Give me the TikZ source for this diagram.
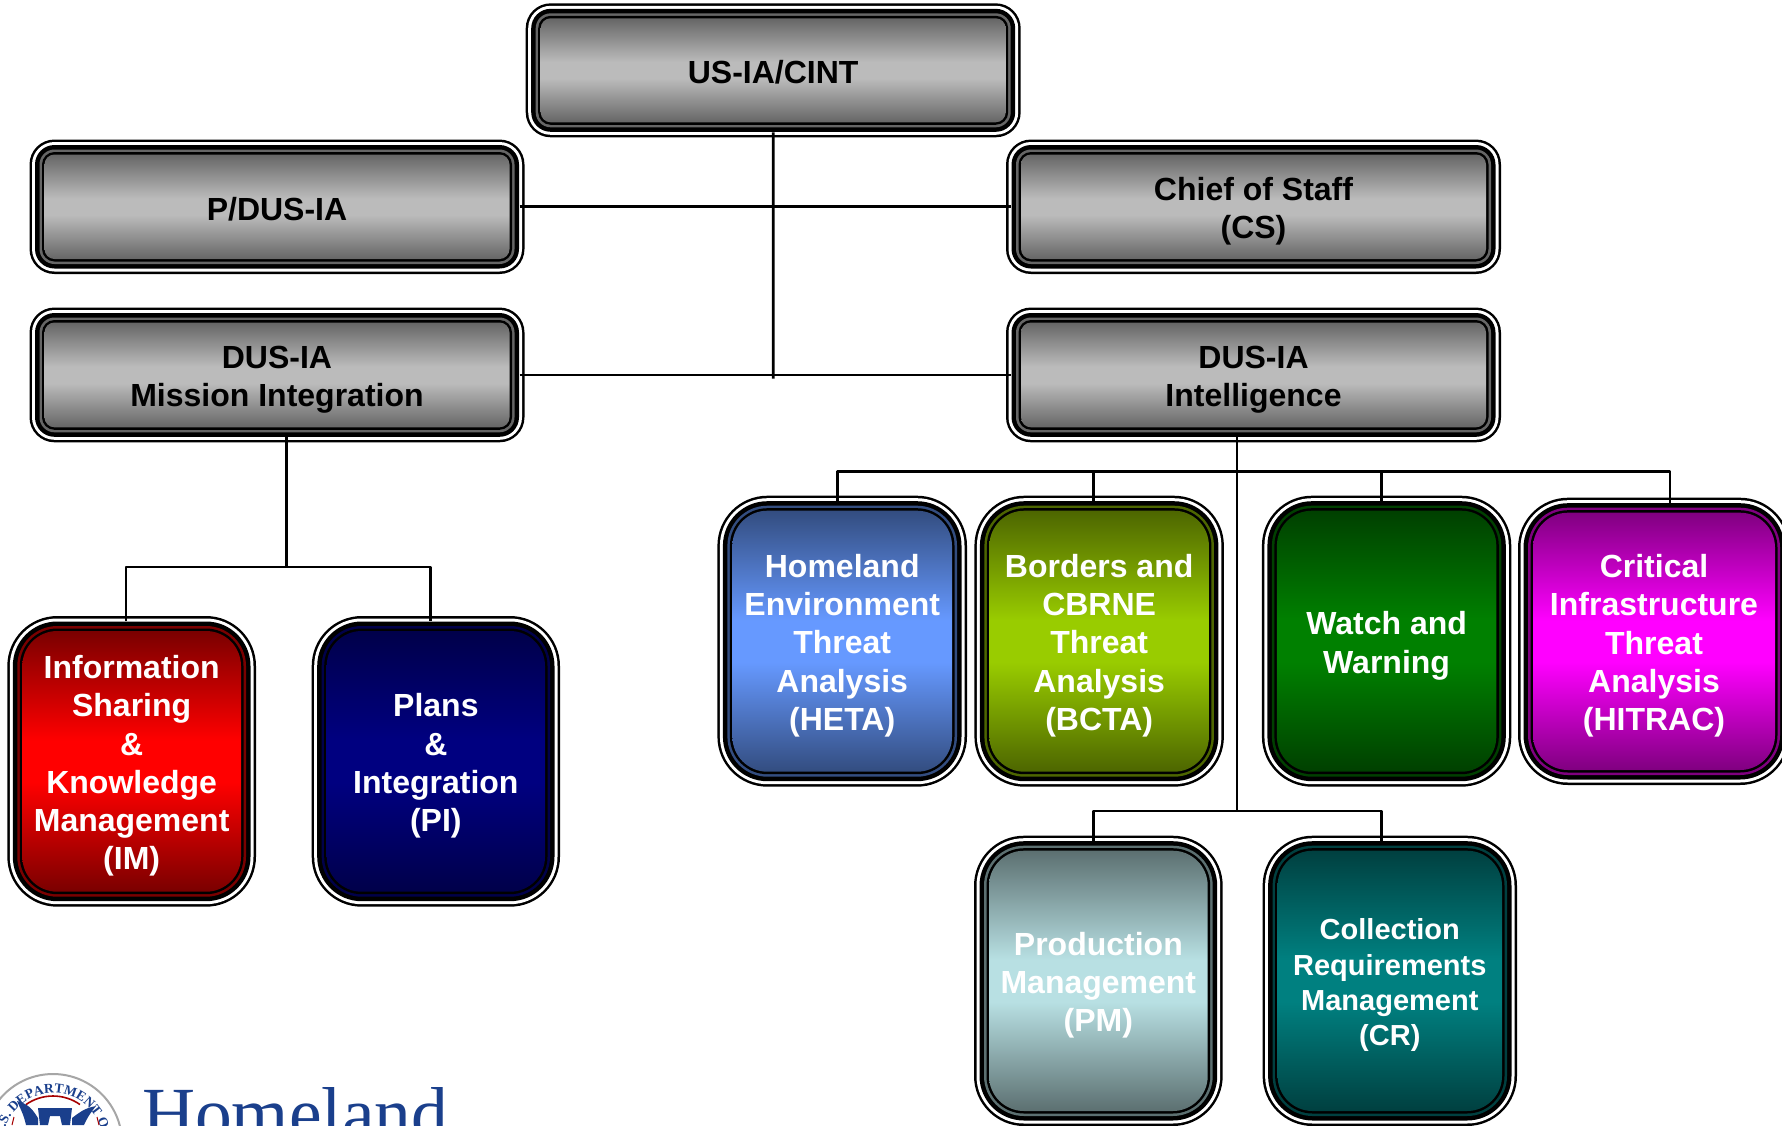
\documentclass[tikz,border=0pt]{standalone}
\usepackage{fontspec}
\setmainfont{Liberation Sans}
\newfontfamily\hlserif{Liberation Serif}
\usetikzlibrary{decorations.text}
\definecolor{grdark}{HTML}{666666}\definecolor{grmid}{HTML}{BBBBBB}
\definecolor{imdark}{HTML}{7A0000}\definecolor{immid}{HTML}{FF0000}
\definecolor{pidark}{HTML}{00004A}\definecolor{pimid}{HTML}{000080}
\definecolor{hedark}{HTML}{334D80}\definecolor{hemid}{HTML}{6699FF}
\definecolor{bcdark}{HTML}{4D6600}\definecolor{bcmid}{HTML}{99CC00}
\definecolor{wwdark}{HTML}{004000}\definecolor{wwmid}{HTML}{008000}
\definecolor{hidark}{HTML}{800080}\definecolor{himid}{HTML}{FF00FF}
\definecolor{pmdark}{HTML}{5C7071}\definecolor{pmmid}{HTML}{B8E0E3}
\definecolor{crdark}{HTML}{004040}\definecolor{crmid}{HTML}{008080}
\definecolor{dhsblue}{HTML}{1A3F8C}
\newcommand{\tonedecl}[1]{\pgfdeclareverticalshading{tone#1}{100bp}{color(0bp)=(#1dark); color(25bp)=(#1dark); color(46bp)=(#1mid); color(54bp)=(#1mid); color(75bp)=(#1dark); color(100bp)=(#1dark)}}
\tonedecl{gr}\tonedecl{im}\tonedecl{pi}\tonedecl{he}\tonedecl{bc}\tonedecl{ww}\tonedecl{hi}\tonedecl{pm}\tonedecl{cr}
\tikzset{
  layer/.style={rectangle,inner sep=0pt,outer sep=0pt,draw=none},
  graytext/.style={text=black},
  whitetext/.style={text=white},
  oneline/.style={yshift=-2pt},
  manylines/.style={yshift=-4.5pt},
  link/.style={draw=black,line width=2.8pt,line join=round},
  intoA/.style={shorten >=-5pt},
  fromA/.style={shorten <=-5pt},
}
\newcommand{\sizemain}{\fontsize{32}{38.2}\selectfont\bfseries}
\newcommand{\sizecr}{\fontsize{29}{35.4}\selectfont\bfseries}
% #1 options, #2 name, #3-#6 box, #7 radius, #8 tone, #9 text
\newcommand{\orgbox}[9][]{%
  \pgfmathsetmacro{\cxx}{(#3+#5)/2}\pgfmathsetmacro{\cyy}{(#4+#6)/2}%
  \pgfmathsetmacro{\www}{#5-#3}\pgfmathsetmacro{\hhh}{#6-#4}%
  \node[layer,fill=black,minimum width=\www pt,minimum height=\hhh pt,rounded corners=#7pt] (#2) at (\cxx,\cyy) {};
  \node[layer,fill=white,minimum width=\www pt-5pt,minimum height=\hhh pt-5pt,rounded corners=#7pt-2.5pt] (#2-a) at (\cxx,\cyy) {};
  \node[layer,fill=black,minimum width=\www pt-11pt,minimum height=\hhh pt-11pt,rounded corners=#7pt-5.5pt] (#2-b) at (\cxx,\cyy) {};
  \node[layer,fill=#8dark,minimum width=\www pt-20pt,minimum height=\hhh pt-20pt,rounded corners=#7pt-10pt] (#2-c) at (\cxx,\cyy) {};
  \node[layer,fill=black,minimum width=\www pt-25pt,minimum height=\hhh pt-25pt,rounded corners=#7pt-12.5pt] (#2-d) at (\cxx,\cyy) {};
  \node[layer,shading=tone#8,minimum width=\www pt-30pt,minimum height=\hhh pt-30pt,rounded corners=#7pt-15pt] (#2-f) at (\cxx,\cyy) {};
  \node[layer,align=center,font=\sizemain,#1] (#2-t) at (\cxx,\cyy) {#9};
}
\begin{document}
\begin{tikzpicture}[x=1pt,y=-1pt]
\useasboundingbox (0,0) rectangle (1782,1125);
\fill[white] (0,0) rectangle (1782,1125);
% gray boxes
\orgbox[graytext,oneline]{cint}{525.7}{3.3}{1020.7}{137.3}{25}{gr}{US-IA/CINT}
\orgbox[graytext,oneline]{pdus}{29.5}{139.5}{524.5}{274}{25}{gr}{P/DUS-IA}
\orgbox[graytext,manylines]{cs}{1006}{139.5}{1501}{274}{25}{gr}{Chief of Staff\\(CS)}
\orgbox[graytext,manylines]{dusmi}{29.5}{307.5}{524.5}{442.3}{25}{gr}{DUS-IA\\Mission Integration}
\orgbox[graytext,manylines]{dusint}{1006}{307.5}{1501}{442.3}{25}{gr}{DUS-IA\\Intelligence}
% coloured boxes
\orgbox[whitetext,manylines]{im}{7.3}{616}{256}{906.7}{50}{im}{Information\\Sharing\\\&\\Knowledge\\Management\\(IM)}
\orgbox[whitetext,manylines]{pi}{311.7}{616}{560}{906.7}{50}{pi}{Plans\\\&\\Integration\\(PI)}
\orgbox[whitetext,manylines]{heta}{717.4}{495.7}{967}{786.7}{50}{he}{Homeland\\Environment\\Threat\\Analysis\\(HETA)}
\orgbox[whitetext,manylines]{bcta}{974.4}{495.7}{1223.9}{786.7}{50}{bc}{Borders and\\CBRNE\\Threat\\Analysis\\(BCTA)}
\orgbox[whitetext,manylines]{ww}{1261.9}{495.7}{1511.3}{786.7}{50}{ww}{Watch and\\Warning}
\orgbox[whitetext,manylines]{hitrac}{1518}{497.7}{1790}{785}{50}{hi}{Critical\\Infrastructure\\Threat\\Analysis\\(HITRAC)}
\orgbox[whitetext,manylines]{pm}{974}{835.7}{1222.7}{1126}{50}{pm}{Production\\Management\\(PM)}
\orgbox[whitetext,manylines,font=\sizecr]{cr}{1262.6}{835.7}{1517}{1126}{50}{cr}{Collection\\Requirements\\Management\\(CR)}
% connector points
\coordinate (centre) at (773.3,378.5);
\coordinate (mibus) at (286.7,567);
\coordinate (miL) at (126,567);
\coordinate (miR) at (430.3,567);
\coordinate (inbusL) at (837.8,471.3);
\coordinate (inbusB) at (1093.4,471.3);
\coordinate (inbusW) at (1381.4,471.3);
\coordinate (inbusR) at (1670,471.3);
\coordinate (trunk) at (1237,811);
\coordinate (lowL) at (1093.4,811);
\coordinate (lowR) at (1381.6,811);
% connectors
\draw[link,fromA] (cint.south) -- (centre);
\draw[link,fromA,intoA] (pdus.east) -- (cs.west);
\draw[link,fromA,intoA] (dusmi.east) -- (dusint.west);
\draw[link,fromA] (mibus |- dusmi.south) -- (mibus);
\draw[link,intoA,fromA] (miL |- im.north) -- (miL) -- (miR) -- (miR |- pi.north);
\draw[link,fromA] (trunk |- dusint.south) -- (trunk);
\draw[link,intoA,fromA] (inbusL |- heta.north) -- (inbusL) -- (inbusR) -- (inbusR |- hitrac.north);
\draw[link,intoA] (inbusB) -- (inbusB |- bcta.north);
\draw[link,intoA] (inbusW) -- (inbusW |- ww.north);
\draw[link,intoA,fromA] (lowL |- pm.north) -- (lowL) -- (lowR) -- (lowR |- cr.north);
% logo: seal
\draw[gray!70,line width=2pt] (53,1143) circle[radius=69];
\path[decorate,decoration={text along path,text align=center,
  text={|\hlserif\bfseries\fontsize{13.5}{14}\selectfont\color{dhsblue}|U.S. DEPARTMENT OF}}]
  (3,1143) arc[start angle=180,end angle=360,radius=50];
\draw[red!65!black,line width=1.6pt] (53,1143) ++(235:47) arc[start angle=235,end angle=305,radius=47];
\fill[dhsblue] (17,1101) .. controls (30,1104) and (34,1112) .. (38,1118) -- (38,1125) -- (26,1125) .. controls (24,1115) and (20,1108) .. (17,1101) -- cycle;
\fill[dhsblue] (96,1106) .. controls (85,1108) and (80,1112) .. (72,1118) -- (72,1125) -- (84,1125) .. controls (88,1116) and (92,1111) .. (96,1106) -- cycle;
\fill[dhsblue] (40,1125) -- (38,1108) -- (72,1108) -- (70,1125) -- (62,1125) -- (60,1116) -- (50,1116) -- (48,1125) -- cycle;
\draw[red!65!black,line width=1pt] (14,1117) -- (12,1125) (97,1117) -- (99,1125);
% logo: word
\node[layer,anchor=base west,text=dhsblue,font=\hlserif\fontsize{73.5}{80}\selectfont] (hlword) at (142,1138) {Homeland};
\end{tikzpicture}
\end{document}
